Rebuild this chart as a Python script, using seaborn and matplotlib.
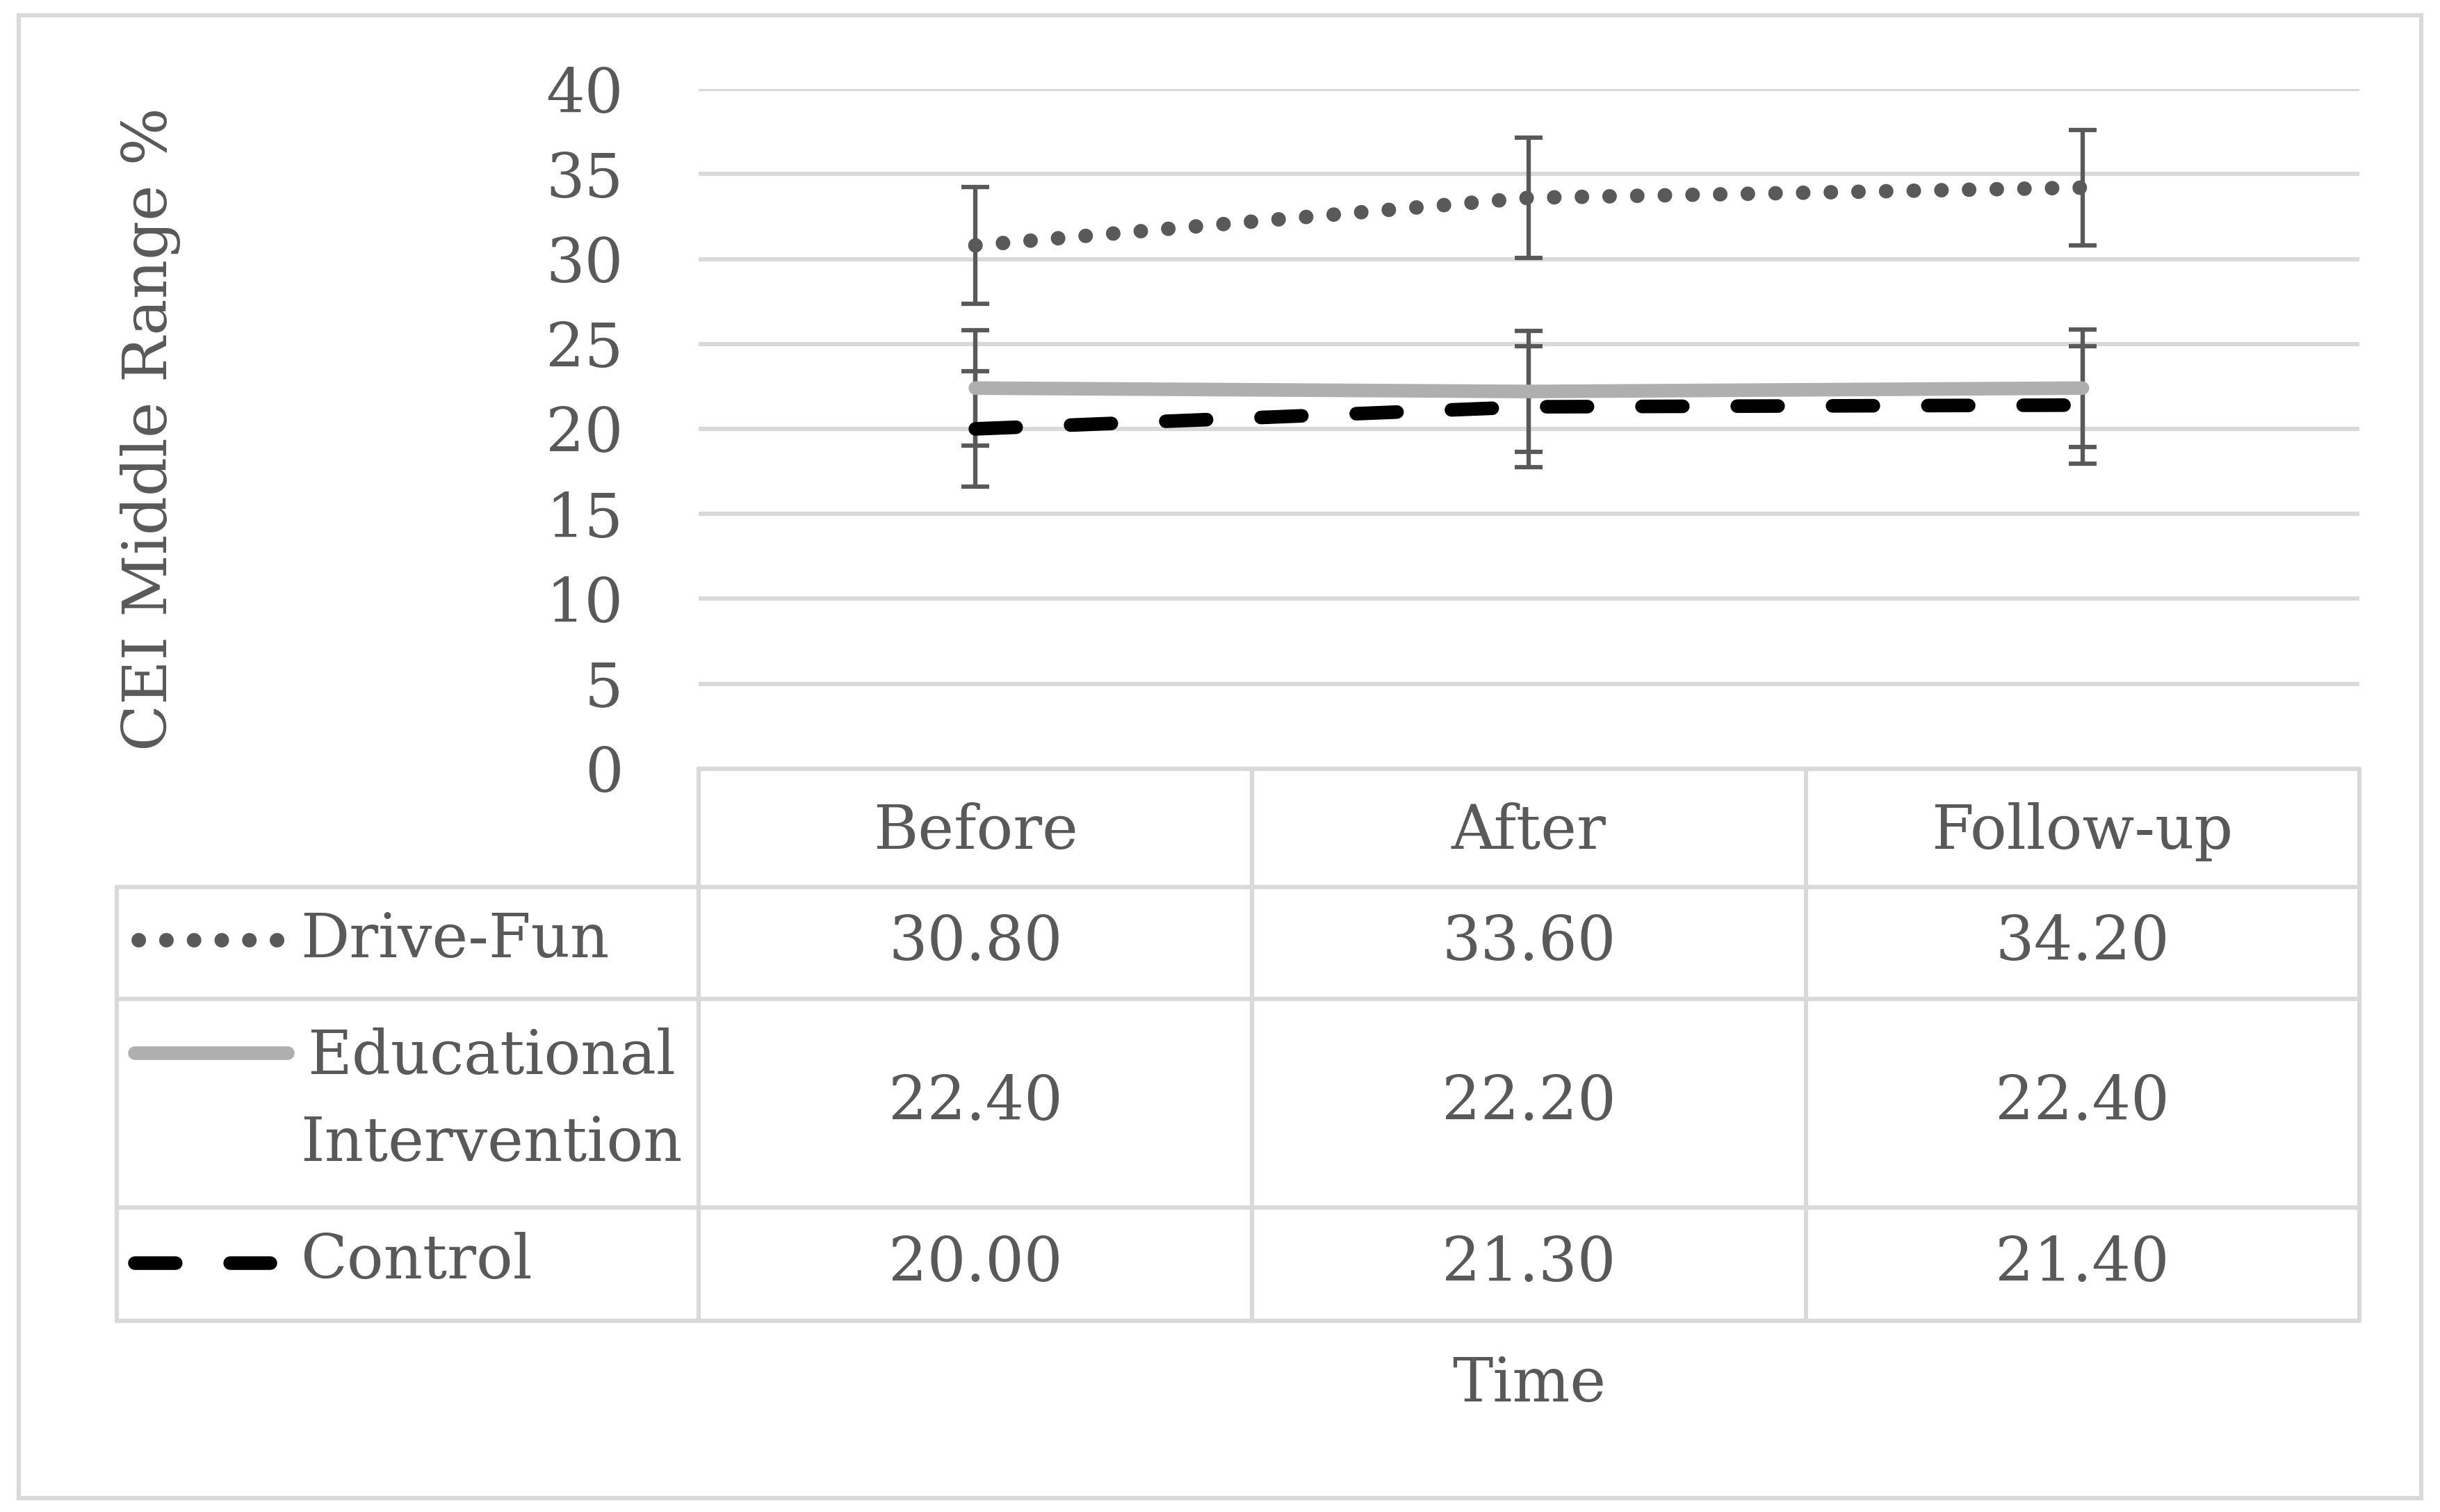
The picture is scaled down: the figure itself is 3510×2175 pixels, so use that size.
import matplotlib
matplotlib.use("Agg")
import matplotlib.pyplot as plt
import seaborn as sns
import numpy as np
from matplotlib.patches import Rectangle

# ---------------- data ----------------
categories = ["Before", "After", "Follow-up"]
series_names = ["Drive-Fun", "Educational\nIntervention", "Control"]
drive_fun = [30.80, 33.60, 34.20]
educational = [22.40, 22.20, 22.40]
control = [20.00, 21.30, 21.40]
drive_fun_err = [3.45, 3.55, 3.40]
educational_err = [3.40, 3.55, 3.45]
control_err = [3.40, 3.55, 3.45]
y_ticks = [0, 5, 10, 15, 20, 25, 30, 35, 40]
y_label = "CEI Middle Range %"
x_label = "Time"

# ---------------- style ----------------
sns.set_style("white")
plt.rcParams["font.family"] = ["DejaVu Serif"]
TXT = "#595959"
GRID = "#D9D9D9"
FS = 21

fig = plt.figure(figsize=(11.7, 7.25), dpi=300)
ax = fig.add_axes([0.2863, 0.4916, 0.6806, 0.4495])

x = np.arange(len(categories))
values = [drive_fun, educational, control]
errors = [drive_fun_err, educational_err, control_err]
styles = [
    dict(color="#595959", lw=5.0, linestyle=(0, (0.01, 1.9)), dash_capstyle="round"),
    dict(color="#AFAFAF", lw=4.7, linestyle="-", solid_capstyle="round"),
    dict(color="#000000", lw=4.7, linestyle=(0, (3, 4)), dash_capstyle="round"),
]

for vals, err in zip(values, errors):
    ax.errorbar(x, vals, yerr=err, fmt="none", ecolor="#595959", elinewidth=1.5,
                capsize=4.9, capthick=1.5, zorder=2)
for vals, st in zip(values, styles):
    sns.lineplot(x=x, y=vals, ax=ax, zorder=3, **st)

ax.set_xlim(-0.5, 2.5)
ax.set_ylim(0, 40)
ax.set_yticks(y_ticks)
ax.set_yticklabels([str(t) for t in y_ticks], fontsize=FS, color=TXT)
ax.tick_params(axis="y", length=0, pad=26)
ax.set_xticks([])
ax.set_xlabel("")
ax.set_ylabel("")
for s in ax.spines.values():
    s.set_visible(False)
ax.yaxis.grid(True, color=GRID, lw=1.5)
ax.set_axisbelow(True)

# ---------------- data table ----------------
T = ax.transAxes
lw_t = 1.5
left_col = -0.3505
row_y = [0.0, -0.1739, -0.3387, -0.6453, -0.8124]
for i, yy in enumerate(row_y):
    x0 = 0.0 if i == 0 else left_col
    ax.plot([x0, 1.0], [yy, yy], transform=T, color=GRID, lw=lw_t, clip_on=False, zorder=1)
for xx in [0.0, 1/3, 2/3, 1.0]:
    ax.plot([xx, xx], [0.0, row_y[-1]], transform=T, color=GRID, lw=lw_t, clip_on=False, zorder=1)
ax.plot([left_col, left_col], [row_y[1], row_y[-1]], transform=T, color=GRID, lw=lw_t,
        clip_on=False, zorder=1)

col_centers = [(i + 0.5) / 3 for i in range(3)]
for cx, cat in zip(col_centers, categories):
    ax.text(cx, (row_y[0] + row_y[1]) / 2 - 0.006, cat, transform=T, ha="center", va="center",
            fontsize=FS, color=TXT)

row_centers = [(row_y[i] + row_y[i + 1]) / 2 for i in range(1, 4)]
key_y = [-0.2517, -0.4188, -0.7277]
key_x0 = [-0.3374, -0.3393, -0.3393]
key_x1 = [-0.2530, -0.2474, -0.2577]
for r, (name, vals, st) in enumerate(zip(series_names, values, styles)):
    yc = row_centers[r]
    for cx, v in zip(col_centers, vals):
        ax.text(cx, yc, f"{v:.2f}", transform=T, ha="center", va="center",
                fontsize=FS, color=TXT)
    ax.plot([key_x0[r], key_x1[r]], [key_y[r], key_y[r]], transform=T, clip_on=False,
            zorder=3, **st)
    ax.text(-0.2399, yc + 0.004, name, transform=T, ha="left", va="center", fontsize=FS,
            color=TXT, multialignment="center", linespacing=1.6)

ax.text(0.5, -0.906, x_label, transform=T, ha="center", va="center", fontsize=FS, color=TXT)
ax.text(-0.33, 0.5, y_label, transform=T, ha="center", va="center", rotation=90,
        fontsize=FS, color=TXT)

fig.patches.append(Rectangle((27 / 3510, 1 - 2155 / 2175), (3483 - 27) / 3510,
                             (2155 - 22) / 2175, transform=fig.transFigure, fill=False,
                             ec=GRID, lw=1.5))

fig.savefig("out.png", dpi=300)
